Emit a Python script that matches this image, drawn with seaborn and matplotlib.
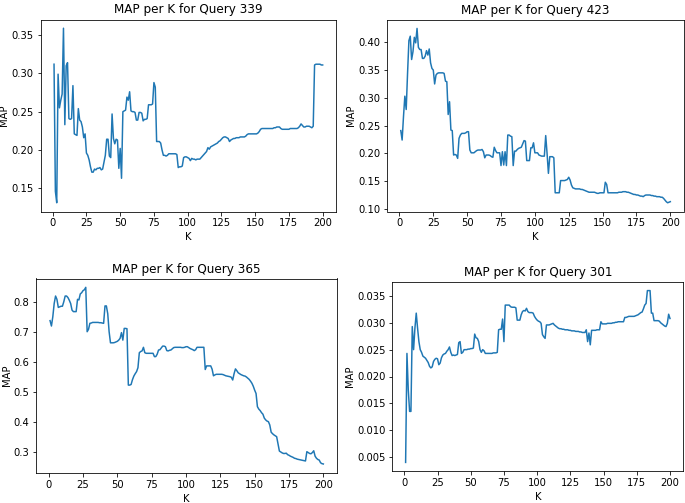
import matplotlib
matplotlib.use("Agg")
import matplotlib.pyplot as plt
import seaborn as sns
import pandas as pd
import numpy as np

K = list(range(1, 201))

map_339 = [
    0.312, 0.146, 0.131, 0.299, 0.255, 0.265, 0.273, 0.359, 0.233, 0.310,
    0.314, 0.241, 0.240, 0.241, 0.284, 0.221, 0.220, 0.219, 0.254, 0.239,
    0.237, 0.230, 0.216, 0.221, 0.196, 0.193, 0.187, 0.178, 0.171, 0.171,
    0.175, 0.174, 0.176, 0.176, 0.177, 0.174, 0.175, 0.184, 0.193, 0.214,
    0.214, 0.192, 0.190, 0.247, 0.215, 0.208, 0.214, 0.213, 0.176, 0.202,
    0.163, 0.250, 0.251, 0.252, 0.269, 0.265, 0.276, 0.251, 0.250, 0.250,
    0.249, 0.239, 0.239, 0.249, 0.249, 0.248, 0.238, 0.240, 0.240, 0.241,
    0.259, 0.259, 0.259, 0.260, 0.288, 0.282, 0.211, 0.211, 0.211, 0.209,
    0.200, 0.193, 0.193, 0.192, 0.193, 0.195, 0.195, 0.195, 0.195, 0.195,
    0.195, 0.194, 0.177, 0.178, 0.178, 0.179, 0.190, 0.191, 0.191, 0.190,
    0.189, 0.186, 0.189, 0.188, 0.188, 0.187, 0.188, 0.188, 0.188, 0.190,
    0.192, 0.194, 0.196, 0.198, 0.203, 0.201, 0.204, 0.205, 0.206, 0.207,
    0.208, 0.209, 0.211, 0.212, 0.214, 0.216, 0.217, 0.217, 0.216, 0.215,
    0.211, 0.213, 0.214, 0.215, 0.215, 0.216, 0.216, 0.216, 0.217, 0.217,
    0.217, 0.217, 0.218, 0.220, 0.221, 0.221, 0.221, 0.221, 0.221, 0.221,
    0.221, 0.222, 0.224, 0.227, 0.228, 0.228, 0.228, 0.228, 0.228, 0.228,
    0.228, 0.228, 0.228, 0.229, 0.229, 0.230, 0.230, 0.230, 0.228, 0.227,
    0.227, 0.227, 0.227, 0.227, 0.227, 0.228, 0.228, 0.228, 0.228, 0.228,
    0.228, 0.229, 0.231, 0.234, 0.232, 0.230, 0.230, 0.231, 0.231, 0.231,
    0.230, 0.229, 0.231, 0.311, 0.312, 0.312, 0.312, 0.312, 0.311, 0.311,
]

map_423 = [
    0.241, 0.224, 0.266, 0.303, 0.279, 0.344, 0.403, 0.411, 0.369, 0.383,
    0.409, 0.399, 0.425, 0.391, 0.387, 0.387, 0.371, 0.371, 0.375, 0.385,
    0.377, 0.388, 0.363, 0.353, 0.350, 0.325, 0.341, 0.344, 0.345, 0.345,
    0.345, 0.345, 0.344, 0.330, 0.329, 0.270, 0.293, 0.242, 0.241, 0.197,
    0.198, 0.197, 0.191, 0.227, 0.233, 0.236, 0.236, 0.236, 0.237, 0.239,
    0.239, 0.206, 0.201, 0.201, 0.201, 0.203, 0.205, 0.206, 0.206, 0.206,
    0.207, 0.203, 0.192, 0.197, 0.197, 0.197, 0.196, 0.194, 0.193, 0.211,
    0.205, 0.201, 0.201, 0.201, 0.178, 0.203, 0.179, 0.203, 0.178, 0.233,
    0.233, 0.231, 0.230, 0.178, 0.204, 0.204, 0.207, 0.209, 0.210, 0.211,
    0.217, 0.223, 0.222, 0.187, 0.187, 0.187, 0.210, 0.210, 0.219, 0.201,
    0.201, 0.201, 0.197, 0.196, 0.195, 0.195, 0.195, 0.232, 0.200, 0.164,
    0.194, 0.194, 0.194, 0.192, 0.129, 0.129, 0.129, 0.129, 0.151, 0.151,
    0.151, 0.151, 0.152, 0.153, 0.157, 0.152, 0.143, 0.138, 0.137, 0.136,
    0.136, 0.136, 0.136, 0.135, 0.135, 0.134, 0.133, 0.132, 0.131, 0.130,
    0.130, 0.130, 0.130, 0.130, 0.129, 0.128, 0.128, 0.129, 0.129, 0.129,
    0.129, 0.148, 0.144, 0.129, 0.129, 0.129, 0.129, 0.129, 0.129, 0.129,
    0.129, 0.130, 0.130, 0.130, 0.131, 0.131, 0.131, 0.130, 0.130, 0.129,
    0.128, 0.127, 0.126, 0.126, 0.125, 0.125, 0.124, 0.123, 0.123, 0.122,
    0.124, 0.125, 0.125, 0.125, 0.125, 0.124, 0.124, 0.123, 0.123, 0.122,
    0.122, 0.122, 0.121, 0.121, 0.119, 0.116, 0.113, 0.111, 0.112, 0.113,
]

map_365 = [
    0.737, 0.719, 0.750, 0.794, 0.819, 0.808, 0.781, 0.783, 0.785, 0.785,
    0.800, 0.819, 0.819, 0.814, 0.805, 0.794, 0.772, 0.767, 0.767, 0.767,
    0.808, 0.806, 0.826, 0.830, 0.837, 0.840, 0.848, 0.700, 0.708, 0.728,
    0.729, 0.731, 0.731, 0.731, 0.731, 0.731, 0.730, 0.730, 0.729, 0.728,
    0.786, 0.786, 0.760, 0.700, 0.663, 0.663, 0.663, 0.664, 0.666, 0.668,
    0.672, 0.678, 0.697, 0.672, 0.711, 0.711, 0.710, 0.522, 0.522, 0.524,
    0.540, 0.552, 0.560, 0.567, 0.580, 0.630, 0.634, 0.636, 0.648, 0.630,
    0.628, 0.628, 0.628, 0.628, 0.628, 0.628, 0.617, 0.617, 0.625, 0.639,
    0.640, 0.646, 0.652, 0.652, 0.650, 0.637, 0.636, 0.638, 0.639, 0.643,
    0.647, 0.648, 0.648, 0.648, 0.648, 0.648, 0.647, 0.647, 0.648, 0.650,
    0.650, 0.647, 0.644, 0.642, 0.640, 0.637, 0.640, 0.648, 0.648, 0.648,
    0.648, 0.648, 0.648, 0.574, 0.586, 0.586, 0.586, 0.586, 0.575, 0.553,
    0.556, 0.558, 0.558, 0.558, 0.558, 0.558, 0.557, 0.555, 0.553, 0.552,
    0.551, 0.550, 0.548, 0.539, 0.560, 0.576, 0.570, 0.563, 0.560, 0.557,
    0.555, 0.553, 0.552, 0.549, 0.545, 0.541, 0.535, 0.528, 0.518, 0.505,
    0.494, 0.450, 0.442, 0.437, 0.430, 0.425, 0.412, 0.406, 0.402, 0.400,
    0.389, 0.365, 0.360, 0.356, 0.353, 0.350, 0.326, 0.302, 0.299, 0.296,
    0.294, 0.294, 0.295, 0.290, 0.288, 0.285, 0.283, 0.281, 0.278, 0.277,
    0.275, 0.274, 0.273, 0.272, 0.271, 0.270, 0.269, 0.300, 0.297, 0.294,
    0.293, 0.297, 0.303, 0.285, 0.278, 0.274, 0.272, 0.263, 0.260, 0.259,
]

map_301 = [
    0.0040, 0.0243, 0.0175, 0.0135, 0.0135, 0.0293, 0.0250, 0.0290, 0.0318, 0.0290,
    0.0265, 0.0250, 0.0245, 0.0238, 0.0236, 0.0234, 0.0230, 0.0226, 0.0219, 0.0216,
    0.0218, 0.0228, 0.0232, 0.0234, 0.0233, 0.0222, 0.0225, 0.0235, 0.0240, 0.0242,
    0.0243, 0.0247, 0.0250, 0.0255, 0.0245, 0.0239, 0.0240, 0.0239, 0.0240, 0.0241,
    0.0263, 0.0265, 0.0243, 0.0245, 0.0250, 0.0250, 0.0250, 0.0251, 0.0251, 0.0252,
    0.0252, 0.0253, 0.0279, 0.0272, 0.0271, 0.0265, 0.0250, 0.0245, 0.0250, 0.0248,
    0.0243, 0.0243, 0.0243, 0.0243, 0.0243, 0.0243, 0.0244, 0.0244, 0.0244, 0.0245,
    0.0287, 0.0288, 0.0288, 0.0307, 0.0265, 0.0333, 0.0333, 0.0333, 0.0333, 0.0330,
    0.0329, 0.0329, 0.0329, 0.0328, 0.0305, 0.0305, 0.0305, 0.0315, 0.0321, 0.0323,
    0.0322, 0.0327, 0.0321, 0.0319, 0.0319, 0.0319, 0.0318, 0.0312, 0.0308, 0.0305,
    0.0303, 0.0302, 0.0299, 0.0278, 0.0274, 0.0271, 0.0296, 0.0296, 0.0296, 0.0297,
    0.0298, 0.0299, 0.0296, 0.0294, 0.0292, 0.0290, 0.0289, 0.0289, 0.0288, 0.0288,
    0.0287, 0.0287, 0.0287, 0.0286, 0.0286, 0.0285, 0.0285, 0.0285, 0.0284, 0.0284,
    0.0284, 0.0283, 0.0283, 0.0282, 0.0282, 0.0282, 0.0287, 0.0265, 0.0281, 0.0259,
    0.0286, 0.0286, 0.0286, 0.0286, 0.0287, 0.0287, 0.0287, 0.0302, 0.0298, 0.0298,
    0.0298, 0.0298, 0.0299, 0.0299, 0.0299, 0.0299, 0.0300, 0.0300, 0.0301, 0.0301,
    0.0302, 0.0302, 0.0302, 0.0302, 0.0302, 0.0310, 0.0310, 0.0311, 0.0312, 0.0312,
    0.0312, 0.0312, 0.0312, 0.0313, 0.0314, 0.0315, 0.0317, 0.0319, 0.0320, 0.0326,
    0.0333, 0.0336, 0.0360, 0.0360, 0.0360, 0.0318, 0.0318, 0.0304, 0.0304, 0.0304,
    0.0304, 0.0303, 0.0300, 0.0298, 0.0296, 0.0294, 0.0293, 0.0299, 0.0316, 0.0308,
]

queries = ["339", "423", "365", "301"]
series = [map_339, map_423, map_365, map_301]

W, H = 685, 503
DPI = 72
fig = plt.figure(figsize=(W / DPI, H / DPI), dpi=DPI)

# axes boxes in pixels: left, top, right, bottom
boxes = [
    (40.6, 19.5, 336.1, 211.5),
    (387.3, 19.7, 683.8, 211.5),
    (36.4, 278.5, 337.0, 472.8),
    (392.4, 282.0, 683.2, 471.0),
]

for q, vals, (l, t, r, b) in zip(queries, series, boxes):
    ax = fig.add_axes([l / W, 1 - b / H, (r - l) / W, (b - t) / H])
    df = pd.DataFrame({"K": K, "MAP": vals})
    sns.lineplot(data=df, x="K", y="MAP", ax=ax, color="#1f77b4", linewidth=1.5)
    ax.set_title(f"MAP per K for Query {q}")
    ax.set_xlabel("K")
    ax.set_ylabel("MAP", labelpad=2)
    ax.set_xticks([0, 25, 50, 75, 100, 125, 150, 175, 200])

fig.savefig("out.png", dpi=DPI)
